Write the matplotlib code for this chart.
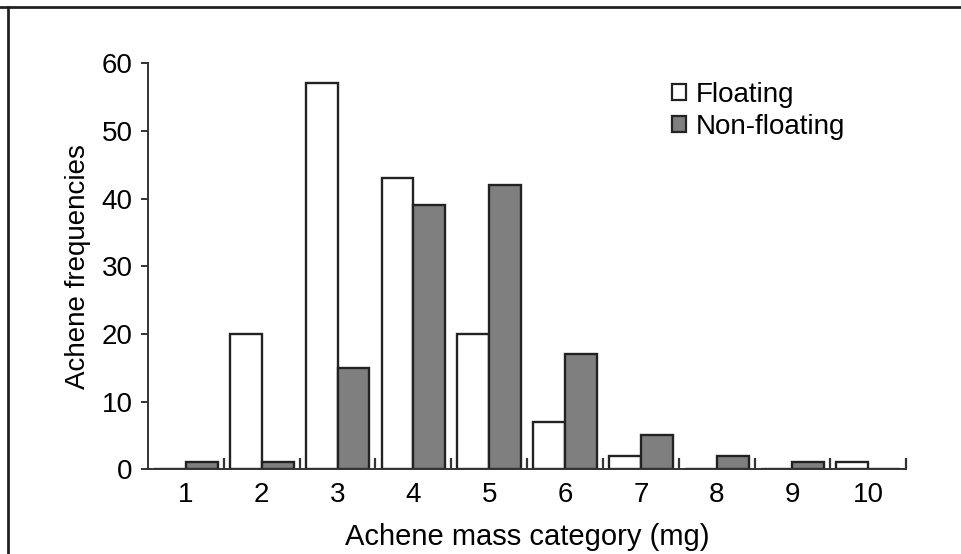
import numpy as np
import matplotlib.pyplot as plt
from matplotlib.lines import Line2D
from matplotlib.patches import Patch

plt.rcParams['font.family'] = ['Liberation Sans', 'DejaVu Sans']

# dados
categories = [1, 2, 3, 4, 5, 6, 7, 8, 9, 10]
floating = [0, 20, 57, 43, 20, 7, 2, 0, 0, 1]
non_floating = [1, 1, 15, 39, 42, 17, 5, 2, 1, 0]

x = np.array(categories)
w = 0.42

fig = plt.figure(figsize=(9.61, 5.54), dpi=100)
ax = fig.add_axes([0.154, 0.153, 0.789, 0.733])

# barras
ax.bar(x - w / 2, floating, w, color='white', edgecolor='#222222', linewidth=1.7,
       label='Floating')
ax.bar(x + w / 2, non_floating, w, color='#7f7f7f', edgecolor='#222222', linewidth=1.7,
       label='Non-floating')

ax.set_xlim(0.5, 10.5)
ax.set_ylim(0, 60)
ax.spines['top'].set_visible(False)
ax.spines['right'].set_visible(False)
ax.spines['left'].set_linewidth(1.4)
ax.spines['bottom'].set_linewidth(1.4)
ax.spines['left'].set_color('#333333')
ax.spines['bottom'].set_color('#333333')

ax.set_yticks(range(0, 61, 10))
ax.tick_params(axis='y', direction='out', length=5, width=1.4, labelsize=20, pad=6,
               color='#333333')
ax.set_xticks(x)
ax.tick_params(axis='x', length=0, labelsize=20, pad=9)

# marcas entre categorias
bounds = np.arange(1.5, 11, 1.0)
ax.set_xticks(bounds, minor=True)
ax.tick_params(axis='x', which='minor', direction='in', length=8, width=1.6,
               color='#333333')

ax.set_xlabel('Achene mass category (mg)', fontsize=21, labelpad=11)
ax.set_ylabel('Achene frequencies', fontsize=20, labelpad=8)

handles = [Patch(facecolor='white', edgecolor='#222222', linewidth=1.6),
           Patch(facecolor='#7f7f7f', edgecolor='#222222', linewidth=1.6)]
ax.legend(handles, ['Floating', 'Non-floating'], loc='upper left',
          bbox_to_anchor=(0.658, 1.015), frameon=False, fontsize=20,
          handlelength=0.5, handleheight=0.5, handletextpad=0.35, labelspacing=0.2)

# moldura da figura (so topo e esquerda)
fig.add_artist(Line2D([0, 1], [0.988, 0.988], transform=fig.transFigure,
                      color='#222222', linewidth=2))
fig.add_artist(Line2D([0.008, 0.008], [0, 0.988], transform=fig.transFigure,
                      color='#222222', linewidth=2))

fig.savefig('out.png', dpi=100)
